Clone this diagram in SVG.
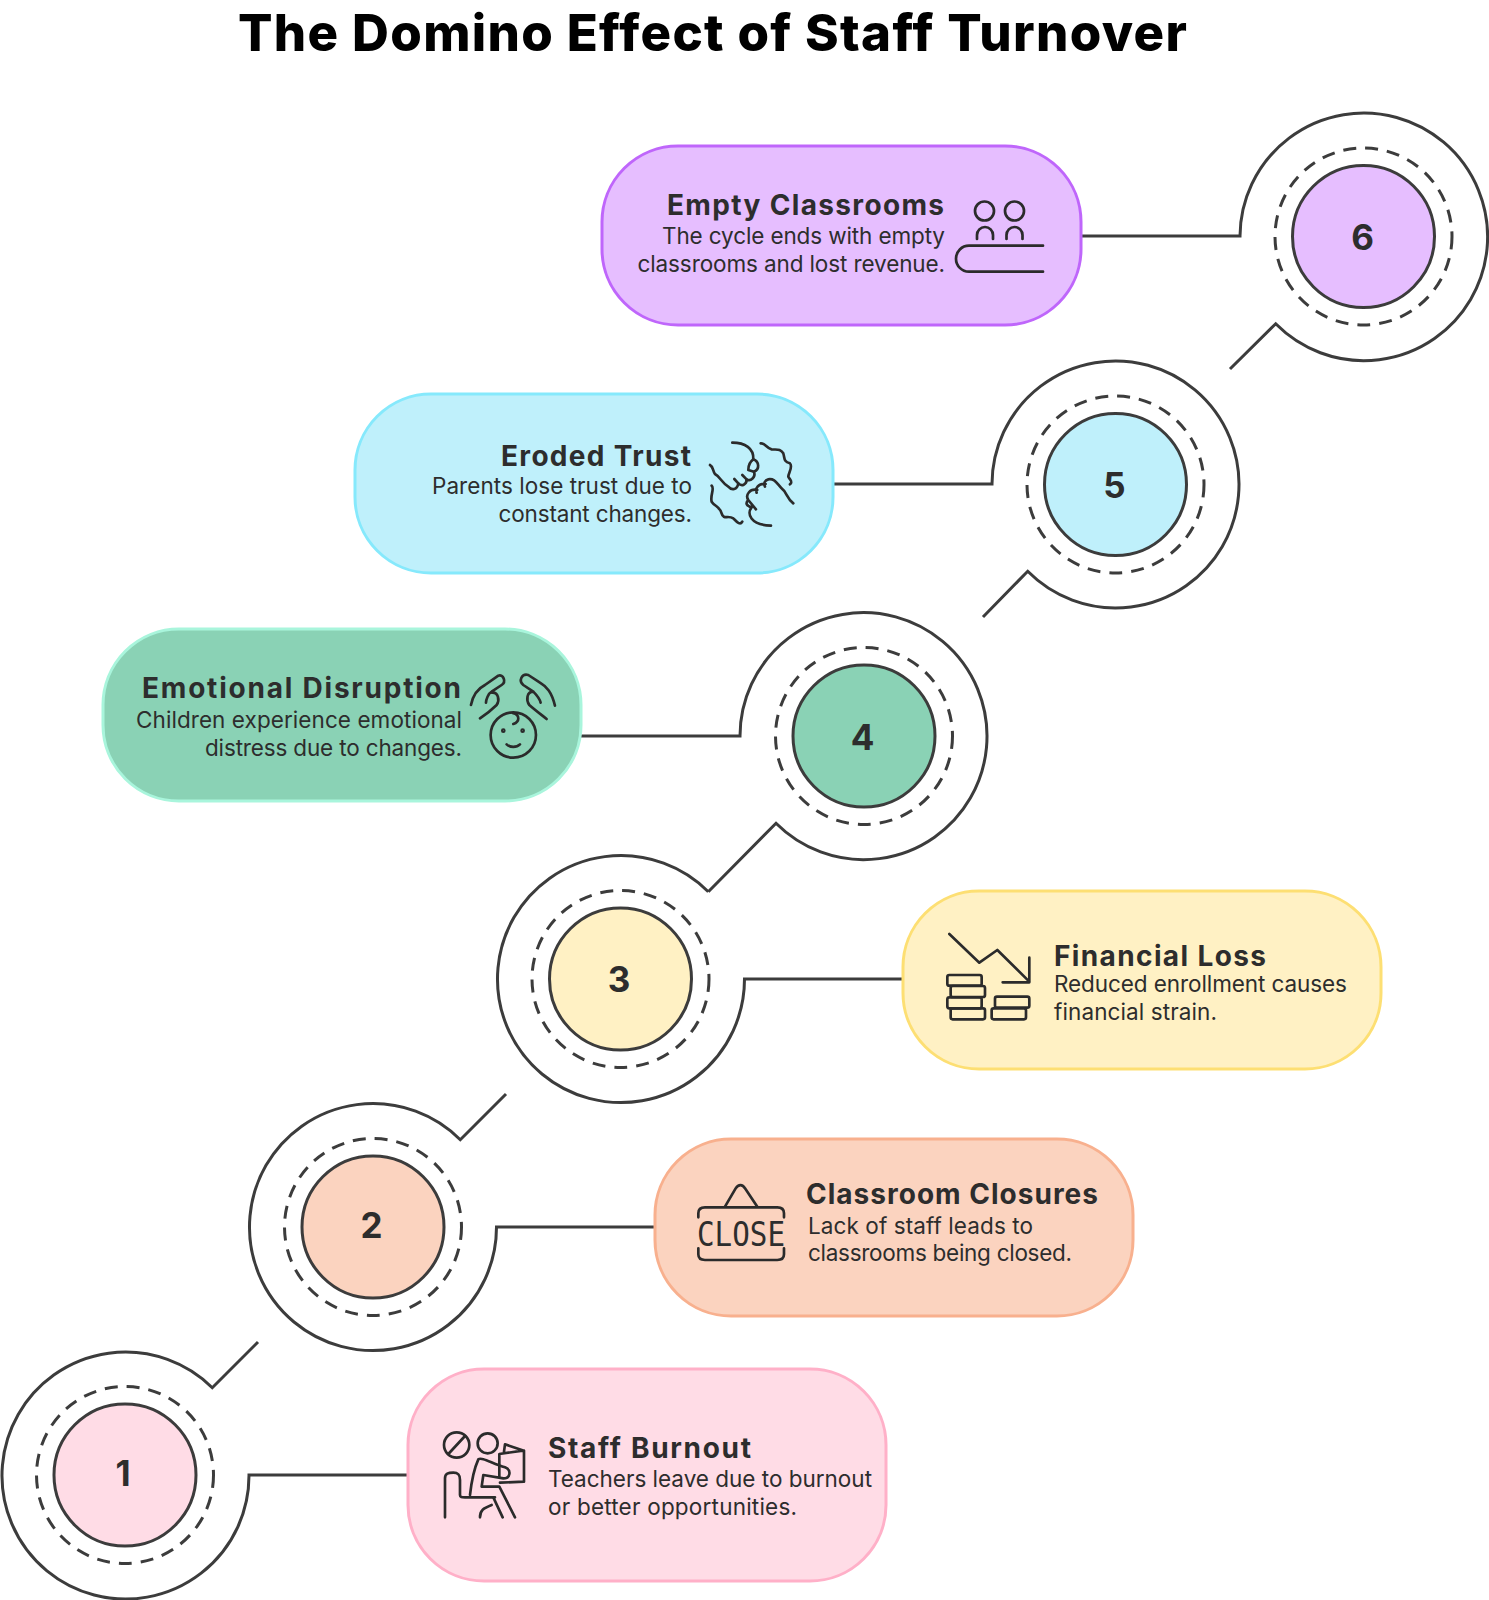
<svg xmlns="http://www.w3.org/2000/svg" width="1489" height="1600" viewBox="0 0 1489 1600">
<style>
text{font-family:Inter,"Liberation Sans",sans-serif;fill:#2d2d2d}
.title{font-size:51px;font-weight:800;fill:#000}
.h{font-size:28px;font-weight:700}
.b{font-size:22.500px;font-weight:400}
.n{font-size:35px;font-weight:700;text-anchor:middle}
.wire{fill:none;stroke:#3c3c3c;stroke-width:3}
.dash{fill:none;stroke:#3c3c3c;stroke-width:3;stroke-dasharray:13 9}
.core{stroke:#3c3c3c;stroke-width:3}
.ico{fill:none;stroke:#2b2b2b;stroke-width:8;stroke-linecap:round;stroke-linejoin:round}
.ico3{fill:none;stroke:#2b2b2b;stroke-width:2.700;stroke-linecap:round;stroke-linejoin:round}
</style>
<rect width="1489" height="1600" fill="#fff"/>
<text class="title" x="238" y="51" textLength="949" lengthAdjust="spacing">The Domino Effect of Staff Turnover</text>

<g id="connectors">
<path class="wire" d="M258 1342L212.300 1387.700A123.500 123.500 0 1 0 249 1475H408"/>
<path class="wire" d="M506 1094L460.300 1139.700A123.500 123.500 0 1 0 496.500 1227H655"/>
<path class="wire" d="M708.300 891.700A123.500 123.500 0 1 0 744.500 979H903"/>
<path class="wire" d="M708.300 891.700L776 823.300A123.500 123.500 0 1 0 740 736H581"/>
<path class="wire" d="M983 617L1027.700 571.300A123.500 123.500 0 1 0 992 484H833"/>
<path class="wire" d="M1230 369L1275.700 323.800A123.800 123.800 0 1 0 1240 236H1081"/>
</g>

<g id="node-1">
<rect x="408" y="1369" width="478" height="212" rx="76" fill="#FFDCE6" stroke="#FFB0C8" stroke-width="3"/>
<circle class="dash" cx="125" cy="1475" r="88.500"/>
<circle class="core" cx="125" cy="1475" r="71" fill="#FFDCE6"/>
<text class="n" x="123" y="1486">1</text>
<text class="h" x="548" y="1458" textLength="203" lengthAdjust="spacing">Staff Burnout</text>
<text class="b" x="548" y="1487" textLength="324" lengthAdjust="spacing">Teachers leave due to burnout</text>
<text class="b" x="548" y="1515" textLength="249" lengthAdjust="spacing">or better opportunities.</text>
<g class="ico" transform="translate(420 1410) scale(.3333)">
<circle cx="110" cy="105" r="38"/><path d="M85 132L135 78"/>
<circle cx="203" cy="100" r="30"/>
<path d="M238 200V132L308 122H312V215L240 218M252 125L255 103L312 122"/>
<path d="M150 255C155 210 165 170 175 148C185 140 215 160 255 172C275 180 272 205 250 205L190 195L185 230H238L285 322M220 262L248 322"/>
<path d="M75 322V205C75 190 85 188 100 188C115 188 120 195 120 210V255C120 262 125 262 135 262H225M180 322C180 300 190 295 215 285"/>
</g>
</g>

<g id="node-2">
<rect x="655" y="1139" width="478" height="177" rx="76" fill="#FBD3BF" stroke="#F8B08E" stroke-width="3"/>
<circle class="dash" cx="373" cy="1227" r="88.500"/>
<circle class="core" cx="373" cy="1227" r="71" fill="#FBD3BF"/>
<text class="n" x="371.500" y="1238">2</text>
<text class="h" x="806" y="1204" textLength="292" lengthAdjust="spacing">Classroom Closures</text>
<text class="b" x="808" y="1234" textLength="225" lengthAdjust="spacing">Lack of staff leads to</text>
<text class="b" x="808" y="1261" textLength="264" lengthAdjust="spacing">classrooms being closed.</text>
<g class="ico" transform="translate(670 1160) scale(.3333)">
<path d="M165 140L197 85C205 72 218 72 225 85L262 140"/>
<path d="M85 172V160C85 148 92 142 105 142H322C335 142 342 148 342 160V172"/>
<path d="M85 265V283C85 295 92 300 105 300H322C335 300 342 295 342 283V265"/>
</g>
<text x="697" y="1246" style="font-family:'DejaVu Sans Mono',monospace;font-size:33px;font-weight:400" textLength="88" lengthAdjust="spacingAndGlyphs">CLOSE</text>
</g>

<g id="node-3">
<rect x="903" y="891" width="478" height="178" rx="76" fill="#FFF1C4" stroke="#FDDF73" stroke-width="3"/>
<circle class="dash" cx="620.500" cy="979" r="88.500"/>
<circle class="core" cx="620.500" cy="979" r="71" fill="#FFF1C4"/>
<text class="n" x="619" y="992">3</text>
<text class="h" x="1054" y="966" textLength="212" lengthAdjust="spacing">Financial Loss</text>
<text class="b" x="1054" y="992" textLength="293" lengthAdjust="spacing">Reduced enrollment causes</text>
<text class="b" x="1054" y="1020" textLength="163" lengthAdjust="spacing">financial strain.</text>
<g class="ico" transform="translate(920 910) scale(.3333)">
<path d="M88 72L178 158L232 120L328 215M248 217H328V143"/>
<rect x="82" y="195" width="103" height="32" rx="6"/>
<rect x="92" y="228" width="103" height="33" rx="6"/>
<rect x="82" y="262" width="103" height="33" rx="6"/>
<rect x="92" y="295" width="103" height="33" rx="6"/>
<rect x="225" y="260" width="103" height="33" rx="6"/>
<rect x="215" y="295" width="103" height="33" rx="6"/>
</g>
</g>

<g id="node-4">
<rect x="103" y="629" width="478" height="172" rx="76" fill="#8AD2B5" stroke="#A9F5DC" stroke-width="3"/>
<circle class="dash" cx="864" cy="736" r="88.500"/>
<circle class="core" cx="864" cy="736" r="71" fill="#8AD2B5"/>
<text class="n" x="862.500" y="750">4</text>
<text class="h" x="142" y="698" textLength="319" lengthAdjust="spacing">Emotional Disruption</text>
<text class="b" x="136" y="728" textLength="326" lengthAdjust="spacing">Children experience emotional</text>
<text class="b" x="205" y="756" textLength="257" lengthAdjust="spacing">distress due to changes.</text>
<g class="ico" transform="translate(120 650) scale(.3333)">
<path d="M1053 165C1060 130 1075 115 1095 105L1135 77C1150 72 1160 95 1145 105L1115 125C1105 130 1098 150 1098 158M1115 128C1135 125 1140 150 1130 165C1115 180 1095 195 1080 205"/>
<path d="M1305 167C1295 125 1280 110 1260 98L1225 75C1205 70 1195 92 1210 105L1240 125C1250 135 1260 150 1262 158M1240 125C1220 125 1218 150 1228 165C1245 180 1265 195 1280 207"/>
<circle cx="1180" cy="255" r="68"/>
<path d="M1160 283C1170 293 1190 293 1200 283M1180 190C1200 195 1200 215 1180 222"/>
<circle cx="1150" cy="242" r="3"/><circle cx="1208" cy="242" r="3"/>
</g>
</g>

<g id="node-5">
<rect x="355" y="394" width="478" height="179" rx="76" fill="#BFF0FB" stroke="#86E9FC" stroke-width="3"/>
<circle class="dash" cx="1115.500" cy="484.500" r="88.500"/>
<circle class="core" cx="1115.500" cy="484.500" r="71" fill="#BFF0FB"/>
<text class="n" x="1114.500" y="497.500">5</text>
<text class="h" x="501" y="466" textLength="190" lengthAdjust="spacing">Eroded Trust</text>
<text class="b" x="432" y="494" textLength="260" lengthAdjust="spacing">Parents lose trust due to</text>
<text class="b" x="498.500" y="522" textLength="193.500" lengthAdjust="spacing">constant changes.</text>
<g class="ico" transform="translate(400 420) scale(.3333)">
<path d="M997 68C1035 68 1062 85 1060 118C1078 125 1080 148 1062 155C1068 172 1052 185 1040 178C1040 195 1025 200 1015 190C1012 210 995 212 985 200C965 188 960 170 945 162C938 152 940 140 930 135"/>
<path d="M1060 118C1050 125 1045 135 1045 150M1062 155L1045 150M1040 178L1027 165M1015 190L1003 177"/>
<path d="M1082 70C1095 68 1100 85 1115 88C1130 90 1140 85 1150 100C1155 115 1150 125 1170 130C1180 140 1165 160 1165 170C1170 180 1180 185 1170 193"/>
<path d="M935 197C945 205 930 225 935 245C945 260 960 260 965 280C970 300 985 285 1000 295C1010 305 1020 318 1027 305"/>
<path d="M1180 250C1160 235 1160 215 1145 205C1130 190 1125 175 1105 178C1095 180 1090 190 1095 200M1097 192C1075 190 1065 205 1070 218M1072 210C1050 205 1035 225 1045 240L1068 268M1045 240C1035 250 1040 258 1055 262C1040 280 1050 315 1113 317"/>
</g>
</g>

<g id="node-6">
<rect x="602" y="146" width="479" height="179" rx="76" fill="#E6BEFF" stroke="#BF66FB" stroke-width="3"/>
<circle class="dash" cx="1363.500" cy="236.500" r="88.500"/>
<circle class="core" cx="1363.500" cy="236.500" r="71" fill="#E6BEFF"/>
<text class="n" x="1362.500" y="249.500">6</text>
<text class="h" x="667" y="215" textLength="277" lengthAdjust="spacing">Empty Classrooms</text>
<text class="b" x="662" y="244" textLength="283" lengthAdjust="spacing">The cycle ends with empty</text>
<text class="b" x="637.500" y="272" textLength="307.500" lengthAdjust="spacing">classrooms and lost revenue.</text>
<g class="ico3">
<circle cx="984.500" cy="211" r="9.500"/><circle cx="1014.500" cy="211" r="9.500"/>
<path d="M977 239V235A8 8 0 0 1 993 235V239M1006.500 239V235A8 8 0 0 1 1022.500 235V239"/>
<path d="M1043 245.700H969A13 13 0 0 0 969 271.700H1043"/>
</g>
</g>
</svg>
